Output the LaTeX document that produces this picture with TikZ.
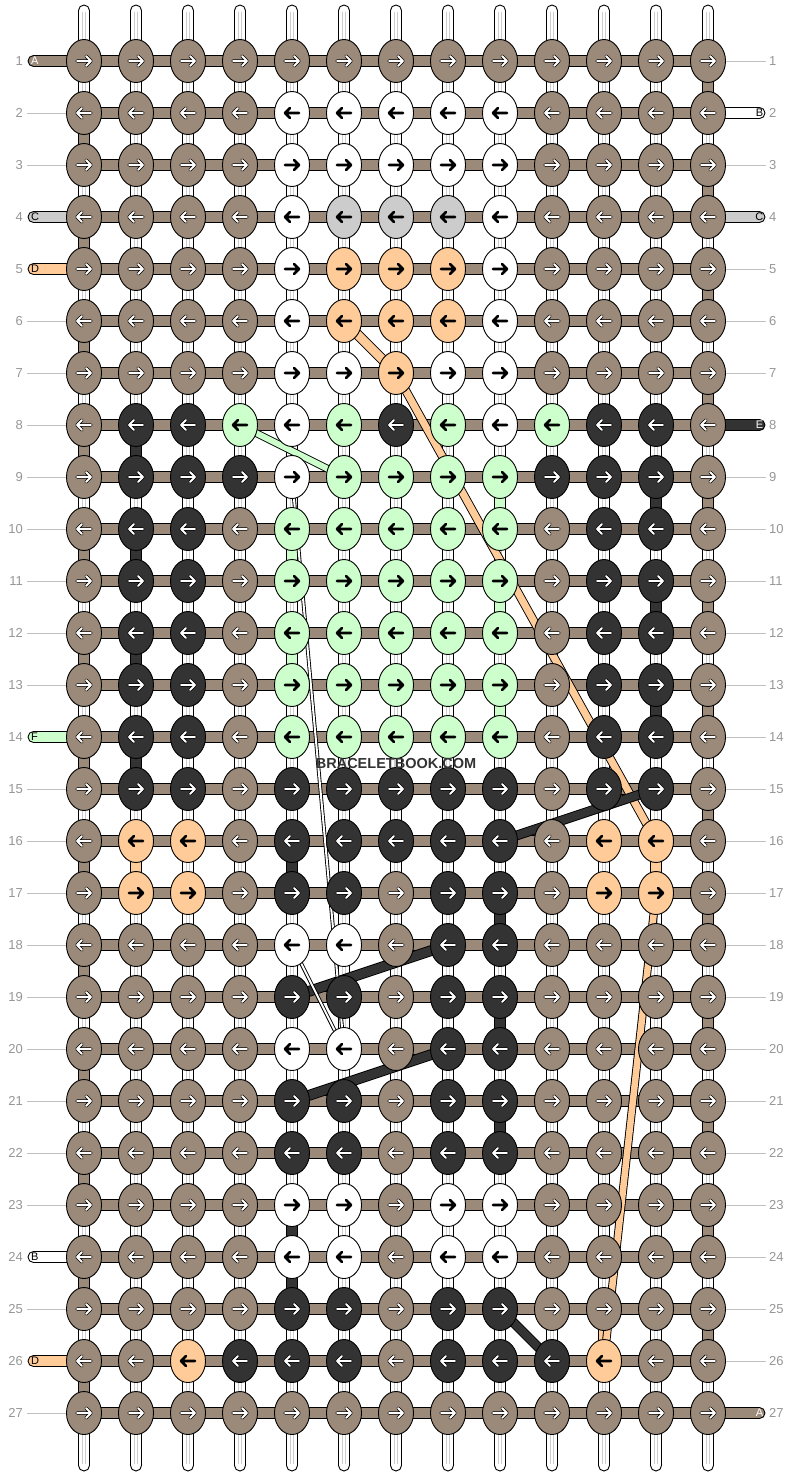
\documentclass[tikz,border=0pt]{standalone}
\usepackage{fontspec}
\setmainfont{Liberation Sans}
\usetikzlibrary{shapes.geometric}
\pgfdeclarelayer{bgL}\pgfdeclarelayer{warpL}\pgfdeclarelayer{segL}\pgfdeclarelayer{weftL}\pgfdeclarelayer{diagL}
\pgfsetlayers{bgL,warpL,segL,weftL,diagL,main}
\definecolor{cN}{RGB}{155,138,122}
\definecolor{cK}{RGB}{51,51,51}
\definecolor{cO}{RGB}{255,204,153}
\definecolor{cG}{RGB}{204,255,204}
\definecolor{cC}{RGB}{204,204,204}
\definecolor{cW}{RGB}{255,255,255}
\definecolor{numgrey}{RGB}{150,150,150}
\definecolor{rowgrey}{RGB}{192,192,192}
\definecolor{warpline}{RGB}{205,205,205}
\tikzset{
  knot/.style={ellipse, draw=black, line width=0.9pt, minimum width=35pt, minimum height=43pt, inner sep=0pt, outer sep=0pt},
  arrowline/.style={line cap=round, line join=round},
  aout/.style={arrowline, draw=black, line width=3.4pt},
  ain/.style={arrowline, draw=white, line width=1.8pt},
  ablack/.style={arrowline, draw=black, line width=2.6pt},
  warpstrand/.style={fill=white, draw=black, line width=0.9pt, rounded corners=5.5pt},
  warpmid/.style={draw=warpline, line width=0.8pt},
  seg/.style={draw=black, line width=0.9pt},
  weftbar/.style={fill=cN, draw=black, line width=0.9pt},
  tabbar/.style={draw=black, line width=0.9pt, rounded corners=5.5pt},
  rowline/.style={draw=rowgrey, line width=0.9pt},
  rownum/.style={text=numgrey, font=\fontsize{13}{13}\selectfont, inner sep=0pt},
  tablabel/.style={font=\fontsize{11}{11}\selectfont, inner sep=0pt},
  watermark/.style={text=cK, font=\bfseries\fontsize{14.5}{14.5}\selectfont, inner sep=0pt}
}
\newcommand\strandband[4]{%
  \draw[black, line width=#2+1.8pt] (#3) -- (#4);
  \draw[#1, line width=#2] (#3) -- (#4);}
\begin{document}
\begin{tikzpicture}[x=1pt,y=-1pt]
\begin{pgfonlayer}{bgL}
\fill[white] (0,0) rectangle (792,1476);
\end{pgfonlayer}
\useasboundingbox (0,0) rectangle (792,1476);

% warp strands
\begin{pgfonlayer}{warpL}
\foreach \ci in {1,...,13}{
  \pgfmathsetmacro\x{84+52*(\ci-1)}
  \draw[warpstrand] (\x-5.5,5) rectangle (\x+5.5,1471);
  \draw[warpmid] (\x-1.7,12) -- (\x-1.7,1464) (\x+1.7,12) -- (\x+1.7,1464);
}
\end{pgfonlayer}

% coloured vertical segments
\begin{pgfonlayer}{segL}
\foreach \ri in {2,4,...,26}{
  \pgfmathsetmacro\y{61+52*(\ri-1)}
  \draw[seg, fill=cN] (78.5,\y) rectangle (89.5,\y+52);
}
\foreach \ri in {1,3,...,25}{
  \pgfmathsetmacro\y{61+52*(\ri-1)}
  \draw[seg, fill=cN] (702.5,\y) rectangle (713.5,\y+52);
}
\foreach \ci/\ri/\cc in {2/8/cK,2/10/cK,2/12/cK,2/14/cK,12/9/cK,12/11/cK,12/13/cK,
  5/16/cK,5/23/cK,5/24/cK,9/17/cK,9/19/cK,9/21/cK,
  5/10/cG,5/12/cG,9/9/cG,9/11/cG,9/13/cG,
  2/16/cO,12/16/cO,11/25/cO}{
  \pgfmathsetmacro\x{84+52*(\ci-1)}
  \pgfmathsetmacro\y{61+52*(\ri-1)}
  \draw[seg, fill=\cc] (\x-5.5,\y) rectangle (\x+5.5,\y+52);
}
\end{pgfonlayer}

% weft bars, tabs and row guide lines
\begin{pgfonlayer}{weftL}
\foreach \ri in {1,...,27}{
  \pgfmathsetmacro\y{61+52*(\ri-1)}
  \draw[weftbar] (84,\y-5.5) rectangle (708,\y+5.5);
}
\foreach \ri/\cc/\lab/\tc in {1/cN/A/white,4/cC/C/black,5/cO/D/black,14/cG/F/black,24/cW/B/black,26/cO/D/black}{
  \pgfmathsetmacro\y{61+52*(\ri-1)}
  \draw[tabbar, fill=\cc] (28,\y-5.5) rectangle (92,\y+5.5);
  \node[tablabel, text=\tc, anchor=west] (ltab\ri) at (31,\y) {\lab};
}
\foreach \ri/\cc/\lab/\tc in {2/cW/B/black,4/cC/C/black,8/cK/E/white,27/cN/A/white}{
  \pgfmathsetmacro\y{61+52*(\ri-1)}
  \draw[tabbar, fill=\cc] (700,\y-5.5) rectangle (765,\y+5.5);
  \node[tablabel, text=\tc, anchor=east] (rtab\ri) at (763.5,\y) {\lab};
}
\foreach \ri in {2,3,6,7,8,9,10,11,12,13,15,16,17,18,19,20,21,22,23,25,27}{
  \pgfmathsetmacro\y{61+52*(\ri-1)}
  \draw[rowline] (27,\y) -- (66,\y);
}
\foreach \ri in {1,3,5,6,7,9,10,11,12,13,14,15,16,17,18,19,20,21,22,23,24,25,26}{
  \pgfmathsetmacro\y{61+52*(\ri-1)}
  \draw[rowline] (726,\y) -- (766,\y);
}
\end{pgfonlayer}

% row numbers
\foreach \ri in {1,...,27}{
  \pgfmathsetmacro\y{61+52*(\ri-1)}
  \node[rownum, anchor=east] (ln\ri) at (23,\y) {\ri};
  \node[rownum, anchor=west] (rn\ri) at (769,\y) {\ri};
}

% knots
\foreach \row [count=\ri] in {
 {N,N,N,N,N,N,N,N,N,N,N,N,N},
 {N,N,N,N,W,W,W,W,W,N,N,N,N},
 {N,N,N,N,W,W,W,W,W,N,N,N,N},
 {N,N,N,N,W,C,C,C,W,N,N,N,N},
 {N,N,N,N,W,O,O,O,W,N,N,N,N},
 {N,N,N,N,W,O,O,O,W,N,N,N,N},
 {N,N,N,N,W,W,O,W,W,N,N,N,N},
 {N,K,K,G,W,G,K,G,W,G,K,K,N},
 {N,K,K,K,W,G,G,G,G,K,K,K,N},
 {N,K,K,N,G,G,G,G,G,N,K,K,N},
 {N,K,K,N,G,G,G,G,G,N,K,K,N},
 {N,K,K,N,G,G,G,G,G,N,K,K,N},
 {N,K,K,N,G,G,G,G,G,N,K,K,N},
 {N,K,K,N,G,G,G,G,G,N,K,K,N},
 {N,K,K,N,K,K,K,K,K,N,K,K,N},
 {N,O,O,N,K,K,K,K,K,N,O,O,N},
 {N,O,O,N,K,K,N,K,K,N,O,O,N},
 {N,N,N,N,W,W,N,K,K,N,N,N,N},
 {N,N,N,N,K,K,N,K,K,N,N,N,N},
 {N,N,N,N,W,W,N,K,K,N,N,N,N},
 {N,N,N,N,K,K,N,K,K,N,N,N,N},
 {N,N,N,N,K,K,N,K,K,N,N,N,N},
 {N,N,N,N,W,W,N,W,W,N,N,N,N},
 {N,N,N,N,W,W,N,W,W,N,N,N,N},
 {N,N,N,N,K,K,N,K,K,N,N,N,N},
 {N,N,O,K,K,K,N,K,K,K,O,N,N},
 {N,N,N,N,N,N,N,N,N,N,N,N,N}}{
  \foreach \k [count=\ci] in \row {
    \pgfmathsetmacro\x{84+52*(\ci-1)}
    \pgfmathsetmacro\y{61+52*(\ri-1)}
    \ifodd\ri \def\s{1}\else\def\s{-1}\fi
    \pgfmathsetmacro\xt{\x+7*(\s)}
    \pgfmathsetmacro\xb{\x-7*(\s)}
    \pgfmathsetmacro\xh{\x+2*(\s)}
    \node[knot, fill=c\k] (k\ri-\ci) at (\x,\y) {};
    \if N\k \def\dk{1}\else\if K\k \def\dk{1}\else\def\dk{0}\fi\fi
    \ifnum\dk=1
      \draw[aout] (\xb,\y) -- (\xt,\y) (\xh,\y-5) -- (\xt,\y) -- (\xh,\y+5);
      \draw[ain] (\xb,\y) -- (\xt,\y) (\xh,\y-5) -- (\xt,\y) -- (\xh,\y+5);
    \else
      \draw[ablack] (\xb,\y) -- (\xt,\y) (\xh,\y-5) -- (\xt,\y) -- (\xh,\y+5);
    \fi
  }
}

% diagonal carried strands (behind knots)
\begin{pgfonlayer}{diagL}
\strandband{cO}{8.5pt}{k6-6.center}{k7-7.center}
\strandband{cO}{7pt}{k7-7.center}{k16-12.center}
\strandband{cO}{6.5pt}{k17-12.center}{k26-11.center}
\strandband{cG}{6pt}{k8-4.center}{k9-6.center}
\strandband{cK}{8pt}{k16-9.center}{k15-12.center}
\strandband{cK}{9pt}{k19-5.center}{k18-8.center}
\strandband{cK}{9pt}{k21-5.center}{k20-8.center}
\strandband{cK}{8pt}{k25-9.center}{k26-10.center}
\strandband{white}{2pt}{k9-5.center}{k20-6.center}
\strandband{white}{2pt}{k18-5.center}{k20-6.center}
\end{pgfonlayer}

\node[watermark] (wm) at (396,763) {BRACELETBOOK.COM};
\end{tikzpicture}
\end{document}
